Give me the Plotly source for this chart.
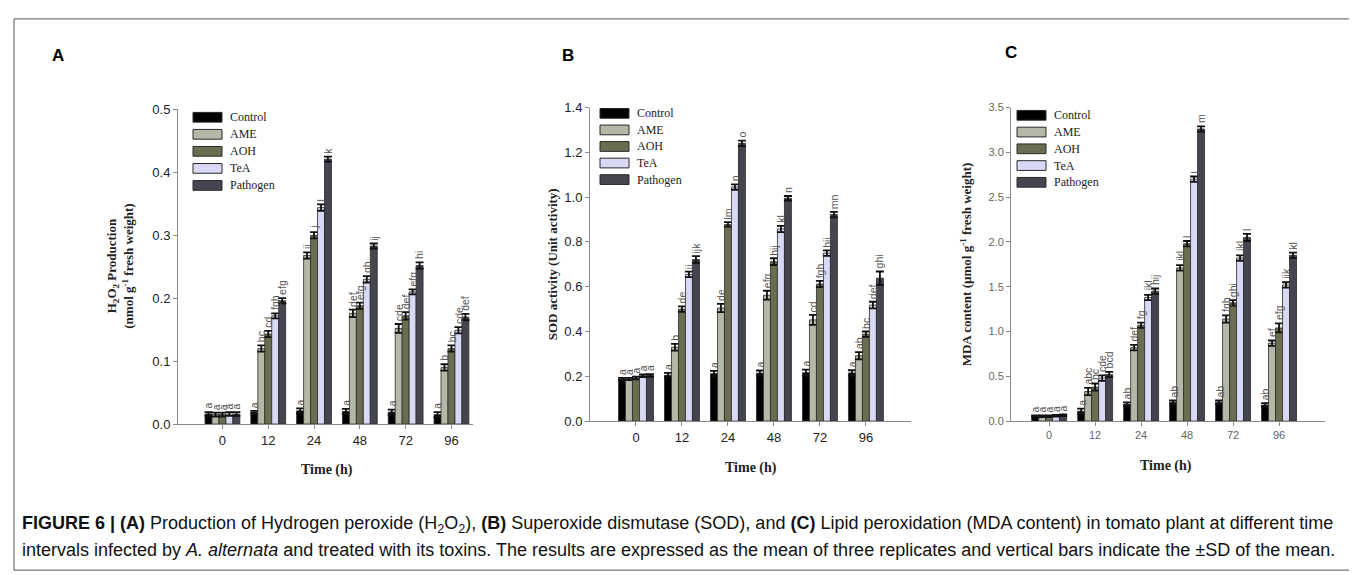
import plotly.graph_objects as go

W, H = 1357, 575

# ---------------- data ----------------
times = ["0", "12", "24", "48", "72", "96"]
series = ["Control", "AME", "AOH", "TeA", "Pathogen"]
colors = ["#000000", "#b6b7a7", "#6b6d50", "#d9d9f5", "#45454f"]

# Panel A: H2O2 production (nmol g-1 fresh weight)
h2o2_control = [0.016, 0.019, 0.021, 0.020, 0.019, 0.015]
h2o2_ame = [0.015, 0.120, 0.268, 0.176, 0.152, 0.090]
h2o2_aoh = [0.015, 0.143, 0.300, 0.188, 0.172, 0.120]
h2o2_tea = [0.016, 0.172, 0.344, 0.230, 0.210, 0.149]
h2o2_path = [0.016, 0.196, 0.421, 0.283, 0.252, 0.170]
h2o2_err = [[0.003, 0.002, 0.004, 0.004, 0.004, 0.004],
            [0.003, 0.005, 0.005, 0.006, 0.007, 0.005],
            [0.003, 0.005, 0.005, 0.005, 0.006, 0.005],
            [0.003, 0.004, 0.005, 0.005, 0.004, 0.005],
            [0.003, 0.004, 0.004, 0.004, 0.005, 0.005]]
h2o2_letters = [["a", "a", "a", "a", "a", "a"],
                ["a", "bc", "ij", "def", "cde", "b"],
                ["a", "cd", "j", "efg", "def", "bc"],
                ["a", "fgh", "l", "gh", "efg", "cde"],
                ["a", "efg", "k", "ij", "hi", "def"]]

# Panel B: SOD activity (Unit activity)
sod_control = [0.188, 0.205, 0.212, 0.214, 0.216, 0.215]
sod_ame = [0.188, 0.330, 0.505, 0.562, 0.452, 0.292]
sod_aoh = [0.193, 0.500, 0.878, 0.712, 0.612, 0.388]
sod_tea = [0.203, 0.655, 1.045, 0.858, 0.750, 0.518]
sod_path = [0.204, 0.722, 1.240, 0.995, 0.922, 0.638]
sod_err = [[0.005, 0.010, 0.012, 0.012, 0.014, 0.012],
           [0.005, 0.015, 0.018, 0.020, 0.022, 0.016],
           [0.006, 0.012, 0.010, 0.015, 0.014, 0.012],
           [0.006, 0.012, 0.012, 0.014, 0.012, 0.015],
           [0.006, 0.015, 0.012, 0.010, 0.012, 0.030]]
sod_letters = [["a", "a", "a", "a", "a", "a"],
               ["a", "b", "de", "efg", "cd", "ab"],
               ["a", "de", "lm", "hij", "fgh", "bc"],
               ["a", "ij", "n", "kl", "hij", "def"],
               ["a", "ijk", "o", "n", "mn", "ghi"]]

# Panel C: MDA content (umol g-1 fresh weight)
mda_control = [0.055, 0.110, 0.190, 0.210, 0.210, 0.180]
mda_ame = [0.055, 0.330, 0.820, 1.710, 1.140, 0.870]
mda_aoh = [0.055, 0.380, 1.070, 1.980, 1.320, 1.040]
mda_tea = [0.060, 0.480, 1.380, 2.700, 1.820, 1.520]
mda_path = [0.065, 0.520, 1.450, 3.260, 2.050, 1.850]
mda_err = [[0.01, 0.03, 0.02, 0.02, 0.02, 0.02],
           [0.01, 0.04, 0.03, 0.03, 0.04, 0.03],
           [0.01, 0.04, 0.03, 0.03, 0.03, 0.05],
           [0.01, 0.03, 0.03, 0.03, 0.03, 0.03],
           [0.01, 0.03, 0.03, 0.03, 0.04, 0.03]]
mda_letters = [["a", "a", "ab", "ab", "ab", "ab"],
               ["a", "abc", "def", "jkl", "fgh", "ef"],
               ["a", "bc", "fg", "l", "ghi", "efg"],
               ["a", "cde", "jkl", "l", "jkl", "ijk"],
               ["a", "bcd", "hij", "m", "l", "kl"]]

panels = [
    dict(vals=[h2o2_control, h2o2_ame, h2o2_aoh, h2o2_tea, h2o2_path], err=h2o2_err,
         letters=h2o2_letters, yrange=[0, 0.5], dtick=0.1, fmt=".1f",
         xpx=[170, 465], ypx=[420, 97], xr=[-0.97, 5.47],
         ytitle="H<sub>2</sub>O<sub>2</sub> Production<br>(nmol g<sup>-1</sup> fresh weight)",
         ytx=112, ttl="A", ttlx=50, ttly=42, legx=185, legy=105, legdy=17.5, tx=319, ty=467,
         tfs=13, tcol="#222222"),
    dict(vals=[sod_control, sod_ame, sod_aoh, sod_tea, sod_path], err=sod_err,
         letters=sod_letters, yrange=[0, 1.4], dtick=0.2, fmt=".1f",
         xpx=[582, 903], ypx=[417, 95], xr=[-1.0, 5.98],
         ytitle="SOD activity (Unit activity)",
         ytx=544, ttl="B", ttlx=560, ttly=42, legx=592, legy=101, legdy=17, tx=743, ty=465,
         tfs=13, tcol="#222222"),
    dict(vals=[mda_control, mda_ame, mda_aoh, mda_tea, mda_path], err=mda_err,
         letters=mda_letters, yrange=[0, 3.5], dtick=0.5, fmt=".1f",
         xpx=[1003, 1317], ypx=[417, 95], xr=[-0.83, 6.0],
         ytitle="MDA content (µmol g<sup>-1</sup> fresh weight)",
         ytx=958, ttl="C", ttlx=1003, ttly=38, legx=1009, legy=103, legdy=17.2, tx=1158, ty=463,
         tfs=11, tcol="#666666"),
]

bargap = 0.24
nser = len(series)
bw = (1 - bargap) / nser

def px(x):
    return x / W

def py(y):
    return 1 - y / H

fig = go.Figure()
annotations = []
shapes = []
serif = "Liberation Serif, Times New Roman, serif"
sans = "Liberation Sans, Arial, sans-serif"

for p_i, P in enumerate(panels):
    sfx = "" if p_i == 0 else str(p_i + 1)
    xref, yref = "x" + sfx, "y" + sfx
    idx = list(range(len(times)))
    for s_i, name in enumerate(series):
        fig.add_trace(go.Bar(
            x=idx, y=P["vals"][s_i], name=name, xaxis=xref, yaxis=yref,
            marker=dict(color=colors[s_i], line=dict(color="#2a2a2a", width=0.8)),
            error_y=dict(type="data", array=P["err"][s_i], visible=True,
                         color="#111111", thickness=1.8, width=4),
            showlegend=False, offsetgroup=str(s_i)))
        for c_i in idx:
            annotations.append(dict(
                x=c_i + (s_i - (nser - 1) / 2) * bw,
                y=P["vals"][s_i][c_i] + P["err"][s_i][c_i],
                xref=xref, yref=yref, text=P["letters"][s_i][c_i],
                textangle=-90, showarrow=False, xanchor="center", yanchor="bottom",
                yshift=1, font=dict(family=sans, size=10.5, color="#555555")))
    tick_font = dict(family=sans, size=P["tfs"], color=P["tcol"])
    fig.layout["xaxis" + sfx] = dict(
        domain=[px(P["xpx"][0]), px(P["xpx"][1])], anchor=yref, range=P["xr"],
        tickvals=idx, ticktext=times, showline=True, linecolor="#8a8a8a", linewidth=1,
        ticks="outside", ticklen=4, tickcolor="#8a8a8a", showgrid=False, zeroline=False,
        tickfont=tick_font, fixedrange=True)
    fig.layout["yaxis" + sfx] = dict(
        domain=[py(P["ypx"][0]), py(P["ypx"][1])], anchor=xref, range=P["yrange"],
        dtick=P["dtick"], tickformat=P["fmt"], showline=True, linecolor="#8a8a8a",
        linewidth=1, ticks="outside", ticklen=4, tickcolor="#8a8a8a", showgrid=False,
        zeroline=False, tickfont=tick_font, fixedrange=True)
    # y-axis title
    annotations.append(dict(
        x=px(P["ytx"]), y=py((P["ypx"][0] + P["ypx"][1]) / 2), xref="paper", yref="paper",
        text="<b>" + P["ytitle"] + "</b>", textangle=-90, showarrow=False,
        xanchor="center", yanchor="middle",
        font=dict(family=serif, size=13, color="#222222")))
    # x-axis title
    annotations.append(dict(
        x=px(P["tx"]), y=py(P["ty"]), xref="paper", yref="paper",
        text="<b>Time (h)</b>", showarrow=False, xanchor="center", yanchor="middle",
        font=dict(family=serif, size=14, color="#222222")))
    # panel letter
    annotations.append(dict(
        x=px(P["ttlx"]), y=py(P["ttly"]), xref="paper", yref="paper",
        text="<b>" + P["ttl"] + "</b>", showarrow=False, xanchor="center", yanchor="middle",
        font=dict(family=sans, size=17, color="#000000")))
    # legend drawn as boxes + labels
    for s_i, name in enumerate(series):
        yc = P["legy"] + s_i * P["legdy"]
        shapes.append(dict(type="rect", xref="paper", yref="paper",
                           x0=px(P["legx"]), x1=px(P["legx"] + 29),
                           y0=py(yc + 5), y1=py(yc - 5),
                           fillcolor=colors[s_i], line=dict(color="#2a2a2a", width=1)))
        annotations.append(dict(
            x=px(P["legx"] + 35), y=py(yc), xref="paper", yref="paper", text=name,
            showarrow=False, xanchor="left", yanchor="middle",
            font=dict(family=serif, size=12, color="#222222")))

# outer frame
shapes.append(dict(type="rect", xref="paper", yref="paper", x0=px(6), x1=px(1351),
                   y0=py(570), y1=py(4), line=dict(color="#555555", width=1)))

cap_font = dict(family="Liberation Sans, Arial, sans-serif", size=18, color="#111111")
annotations.append(dict(
    x=px(12), y=py(523), xref="paper", yref="paper", xanchor="left", yanchor="middle",
    showarrow=False, font=cap_font,
    text="<b>FIGURE 6 | (A)</b> Production of Hydrogen peroxide (H<sub>2</sub>O<sub>2</sub>), "
         "<b>(B)</b> Superoxide dismutase (SOD), and <b>(C)</b> Lipid peroxidation (MDA content) "
         "in tomato plant at different time"))
annotations.append(dict(
    x=px(12), y=py(549), xref="paper", yref="paper", xanchor="left", yanchor="middle",
    showarrow=False, font=cap_font,
    text="intervals infected by <i>A. alternata</i> and treated with its toxins. The results are "
         "expressed as the mean of three replicates and vertical bars indicate the ±SD of the mean."))

fig.update_layout(
    width=W, height=H, margin=dict(l=0, r=0, t=0, b=0), autosize=False,
    paper_bgcolor="white", plot_bgcolor="white", barmode="group",
    bargap=bargap, bargroupgap=0, annotations=annotations, shapes=shapes,
    showlegend=False)

fig.write_html("out.html", config={"displayModeBar": False})
